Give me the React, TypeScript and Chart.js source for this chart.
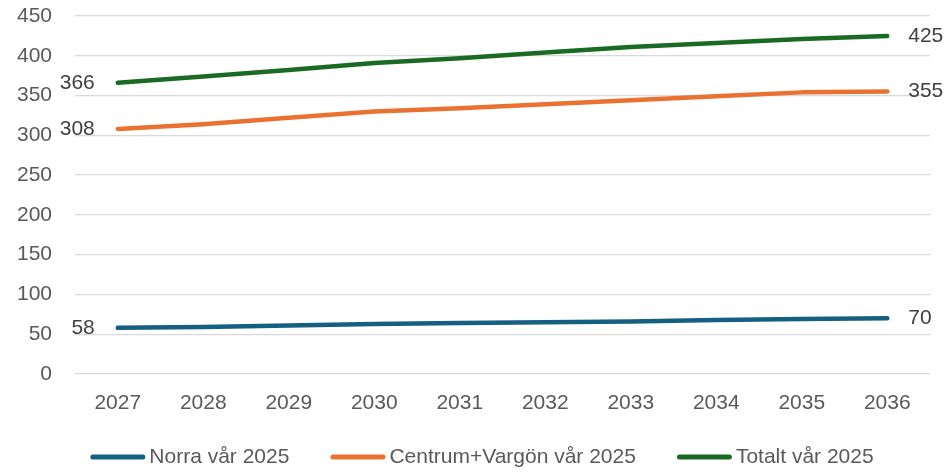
import React, { useEffect, useRef } from "react";
import { Chart, registerables } from "chart.js";

Chart.register(...registerables);

const years = ["2027", "2028", "2029", "2030", "2031", "2032", "2033", "2034", "2035", "2036"];
const norra = [58, 59, 61, 63, 64, 65, 66, 68, 69, 70];
const centrum = [308, 314, 322, 330, 334, 339, 344, 349, 354, 355];
const totalt = [366, 374, 382, 391, 397, 404, 411, 416, 421, 425];
const seriesNames = ["Norra vår 2025", "Centrum+Vargön vår 2025", "Totalt vår 2025"];
const seriesColors = ["#156082", "#E97132", "#196B24"];
const yMin = 0;
const yMax = 450;
const yStep = 50;

const FONT = '"Liberation Sans", Arial, sans-serif';
const FONT_SIZE = 21;

const endLabels = {
  id: "endLabels",
  afterDatasetsDraw(chart: any) {
    const ctx = chart.ctx;
    ctx.save();
    ctx.font = `${FONT_SIZE}px ${FONT}`;
    ctx.fillStyle = "#404040";
    ctx.textBaseline = "middle";
    chart.data.datasets.forEach((ds: any, i: number) => {
      const meta = chart.getDatasetMeta(i);
      const first = meta.data[0];
      const last = meta.data[meta.data.length - 1];
      ctx.textAlign = "right";
      ctx.fillText(String(ds.data[0]), first.x - 23, first.y);
      ctx.textAlign = "left";
      ctx.fillText(String(ds.data[ds.data.length - 1]), last.x + 21, last.y);
    });
    ctx.restore();
  },
};

const customLegend = {
  id: "customLegend",
  afterDraw(chart: any) {
    const ctx = chart.ctx;
    ctx.save();
    ctx.font = `${FONT_SIZE}px ${FONT}`;
    const lineLen = 55;
    const textGap = 4;
    const itemGap = 41;
    const items = chart.data.datasets.map((ds: any) => ({
      label: ds.label,
      color: ds.borderColor,
      w: ctx.measureText(ds.label).width,
    }));
    const total =
      items.reduce((s: number, it: any) => s + lineLen + textGap + it.w, 0) +
      itemGap * (items.length - 1);
    let x = 482 - total / 2;
    const y = 457;
    ctx.textBaseline = "middle";
    ctx.textAlign = "left";
    items.forEach((it: any) => {
      ctx.strokeStyle = it.color;
      ctx.lineWidth = 5;
      ctx.lineCap = "round";
      ctx.beginPath();
      ctx.moveTo(x + 2.5, y);
      ctx.lineTo(x + lineLen - 2.5, y);
      ctx.stroke();
      ctx.fillStyle = "#595959";
      ctx.fillText(it.label, x + lineLen + textGap, y);
      x += lineLen + textGap + it.w + itemGap;
    });
    ctx.restore();
  },
};

export default function App() {
  const canvasRef = useRef<HTMLCanvasElement | null>(null);

  useEffect(() => {
    const canvas = canvasRef.current;
    if (!canvas) return;
    const seriesData = [norra, centrum, totalt];
    const chart = new Chart(canvas, {
      type: "line",
      data: {
        labels: years,
        datasets: seriesData.map((d, i) => ({
          label: seriesNames[i],
          data: d,
          borderColor: seriesColors[i],
          backgroundColor: seriesColors[i],
          borderWidth: 4.5,
          borderCapStyle: "round",
          borderJoinStyle: "round",
          pointRadius: 0,
          pointHoverRadius: 0,
          tension: 0,
          fill: false,
        })),
      },
      options: {
        responsive: false,
        animation: false,
        devicePixelRatio: 1,
        layout: { padding: { left: 0, right: 19, top: 16, bottom: 0 } },
        plugins: {
          legend: { display: false },
          tooltip: { enabled: false },
        },
        scales: {
          x: {
            offset: true,
            grid: { display: false, drawTicks: false },
            border: { display: false },
            ticks: {
              color: "#595959",
              font: { family: FONT, size: FONT_SIZE },
              padding: 17,
              maxRotation: 0,
            },
            afterFit(scale: any) {
              scale.height = 98;
            },
          },
          y: {
            min: yMin,
            max: yMax,
            grid: { color: "#d9d9d9", lineWidth: 1.3, drawTicks: false },
            border: { display: false },
            ticks: {
              stepSize: yStep,
              color: "#595959",
              font: { family: FONT, size: FONT_SIZE },
              padding: 23,
            },
            afterFit(scale: any) {
              scale.width = 75;
              scale.paddingTop = 0;
              scale.paddingBottom = 0;
            },
          },
        },
      },
      plugins: [endLabels, customLegend],
    });
    return () => chart.destroy();
  }, []);

  return (
    <div style={{ position: "fixed", left: 0, top: 0, width: 949, height: 472, background: "#fff" }}>
      <canvas ref={canvasRef} width={949} height={472} style={{ display: "block", width: 949, height: 472 }} />
    </div>
  );
}
